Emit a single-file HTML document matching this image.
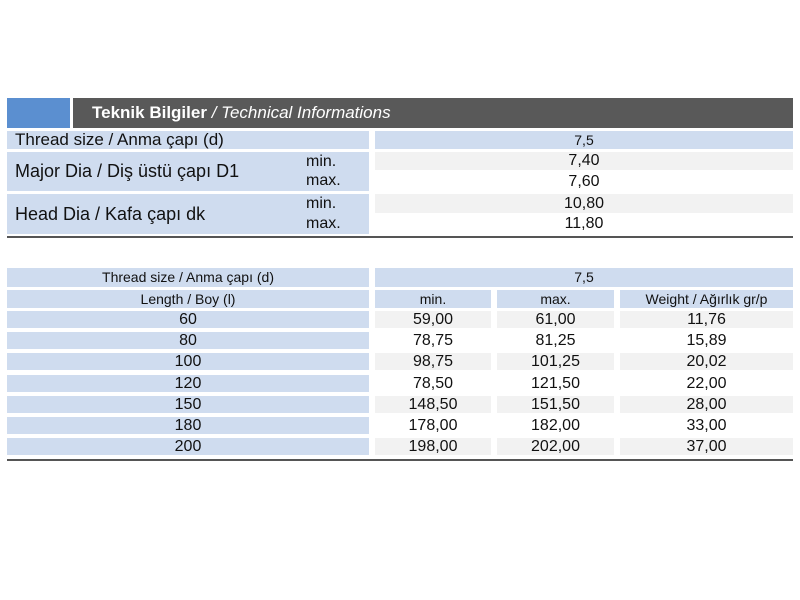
<!DOCTYPE html>
<html><head><meta charset="utf-8"><style>
body{margin:0;width:800px;height:600px;background:#fff;position:relative;overflow:hidden;font-family:"Liberation Sans",sans-serif;color:#111}
div{position:absolute;box-sizing:border-box}
.b{background:#cfdcef}
.g{background:#f2f2f2}
.c{text-align:center}
.t{white-space:nowrap}
</style></head><body>
<div style="left:7px;top:98px;width:63px;height:30px;background:#5b8fd0"></div>
<div style="left:73px;top:98px;width:720px;height:30px;background:#595959;color:#fff;font-size:17px;line-height:30px;padding-left:19px"><b>Teknik Bilgiler</b> <i>/ Technical Informations</i></div>

<div class="b t" style="left:7px;top:131px;width:362px;height:18px;font-size:17px;line-height:18px;padding-left:8px">Thread size / Anma çapı (d)</div>
<div class="b c" style="left:375px;top:131px;width:418px;height:18px;font-size:14px;line-height:18px">7,5</div>

<div class="b t" style="left:7px;top:152px;width:362px;height:39px;font-size:18px;line-height:39px;padding-left:8px">Major Dia / Diş üstü çapı D1</div>
<div class="t" style="left:306px;top:152px;font-size:16px;line-height:19px">min.<br>max.</div>
<div class="g c" style="left:375px;top:152px;width:418px;height:18px;font-size:16px;line-height:18px">7,40</div>
<div class="c" style="left:375px;top:172px;width:418px;height:19px;font-size:16px;line-height:19px">7,60</div>

<div class="b t" style="left:7px;top:194px;width:362px;height:40px;font-size:18px;line-height:40px;padding-left:8px">Head Dia / Kafa çapı dk</div>
<div class="t" style="left:306px;top:194px;font-size:16px;line-height:20px">min.<br>max.</div>
<div class="g c" style="left:375px;top:194px;width:418px;height:19px;font-size:16px;line-height:19px">10,80</div>
<div class="c" style="left:375px;top:214px;width:418px;height:20px;font-size:16px;line-height:20px">11,80</div>
<div style="left:7px;top:236px;width:786px;height:2px;background:#555"></div>

<div class="b c t" style="left:7px;top:268px;width:362px;height:19px;font-size:14px;line-height:19px">Thread size / Anma çapı (d)</div>
<div class="b c" style="left:375px;top:268px;width:418px;height:19px;font-size:14px;line-height:19px">7,5</div>
<div class="b c t" style="left:7px;top:290px;width:362px;height:18px;font-size:14px;line-height:18px">Length / Boy (l)</div>
<div class="b c" style="left:375px;top:290px;width:116px;height:18px;font-size:14px;line-height:18px">min.</div>
<div class="b c" style="left:497px;top:290px;width:117px;height:18px;font-size:14px;line-height:18px">max.</div>
<div class="b c t" style="left:620px;top:290px;width:173px;height:18px;font-size:14px;line-height:18px">Weight / Ağırlık gr/p</div>

<div class="b c" style="left:7px;top:311px;width:362px;height:17px;font-size:16px;line-height:17px">60</div>
<div class="g c" style="left:375px;top:311px;width:116px;height:17px;font-size:16px;line-height:17px">59,00</div>
<div class="g c" style="left:497px;top:311px;width:117px;height:17px;font-size:16px;line-height:17px">61,00</div>
<div class="g c" style="left:620px;top:311px;width:173px;height:17px;font-size:16px;line-height:17px">11,76</div>

<div class="b c" style="left:7px;top:332px;width:362px;height:17px;font-size:16px;line-height:17px">80</div>
<div class="c" style="left:375px;top:332px;width:116px;height:17px;font-size:16px;line-height:17px">78,75</div>
<div class="c" style="left:497px;top:332px;width:117px;height:17px;font-size:16px;line-height:17px">81,25</div>
<div class="c" style="left:620px;top:332px;width:173px;height:17px;font-size:16px;line-height:17px">15,89</div>

<div class="b c" style="left:7px;top:353px;width:362px;height:17px;font-size:16px;line-height:17px">100</div>
<div class="g c" style="left:375px;top:353px;width:116px;height:17px;font-size:16px;line-height:17px">98,75</div>
<div class="g c" style="left:497px;top:353px;width:117px;height:17px;font-size:16px;line-height:17px">101,25</div>
<div class="g c" style="left:620px;top:353px;width:173px;height:17px;font-size:16px;line-height:17px">20,02</div>

<div class="b c" style="left:7px;top:375px;width:362px;height:17px;font-size:16px;line-height:17px">120</div>
<div class="c" style="left:375px;top:375px;width:116px;height:17px;font-size:16px;line-height:17px">78,50</div>
<div class="c" style="left:497px;top:375px;width:117px;height:17px;font-size:16px;line-height:17px">121,50</div>
<div class="c" style="left:620px;top:375px;width:173px;height:17px;font-size:16px;line-height:17px">22,00</div>

<div class="b c" style="left:7px;top:396px;width:362px;height:17px;font-size:16px;line-height:17px">150</div>
<div class="g c" style="left:375px;top:396px;width:116px;height:17px;font-size:16px;line-height:17px">148,50</div>
<div class="g c" style="left:497px;top:396px;width:117px;height:17px;font-size:16px;line-height:17px">151,50</div>
<div class="g c" style="left:620px;top:396px;width:173px;height:17px;font-size:16px;line-height:17px">28,00</div>

<div class="b c" style="left:7px;top:417px;width:362px;height:17px;font-size:16px;line-height:17px">180</div>
<div class="c" style="left:375px;top:417px;width:116px;height:17px;font-size:16px;line-height:17px">178,00</div>
<div class="c" style="left:497px;top:417px;width:117px;height:17px;font-size:16px;line-height:17px">182,00</div>
<div class="c" style="left:620px;top:417px;width:173px;height:17px;font-size:16px;line-height:17px">33,00</div>

<div class="b c" style="left:7px;top:438px;width:362px;height:17px;font-size:16px;line-height:17px">200</div>
<div class="g c" style="left:375px;top:438px;width:116px;height:17px;font-size:16px;line-height:17px">198,00</div>
<div class="g c" style="left:497px;top:438px;width:117px;height:17px;font-size:16px;line-height:17px">202,00</div>
<div class="g c" style="left:620px;top:438px;width:173px;height:17px;font-size:16px;line-height:17px">37,00</div>
<div style="left:7px;top:459px;width:786px;height:2px;background:#555"></div>
</body></html>
